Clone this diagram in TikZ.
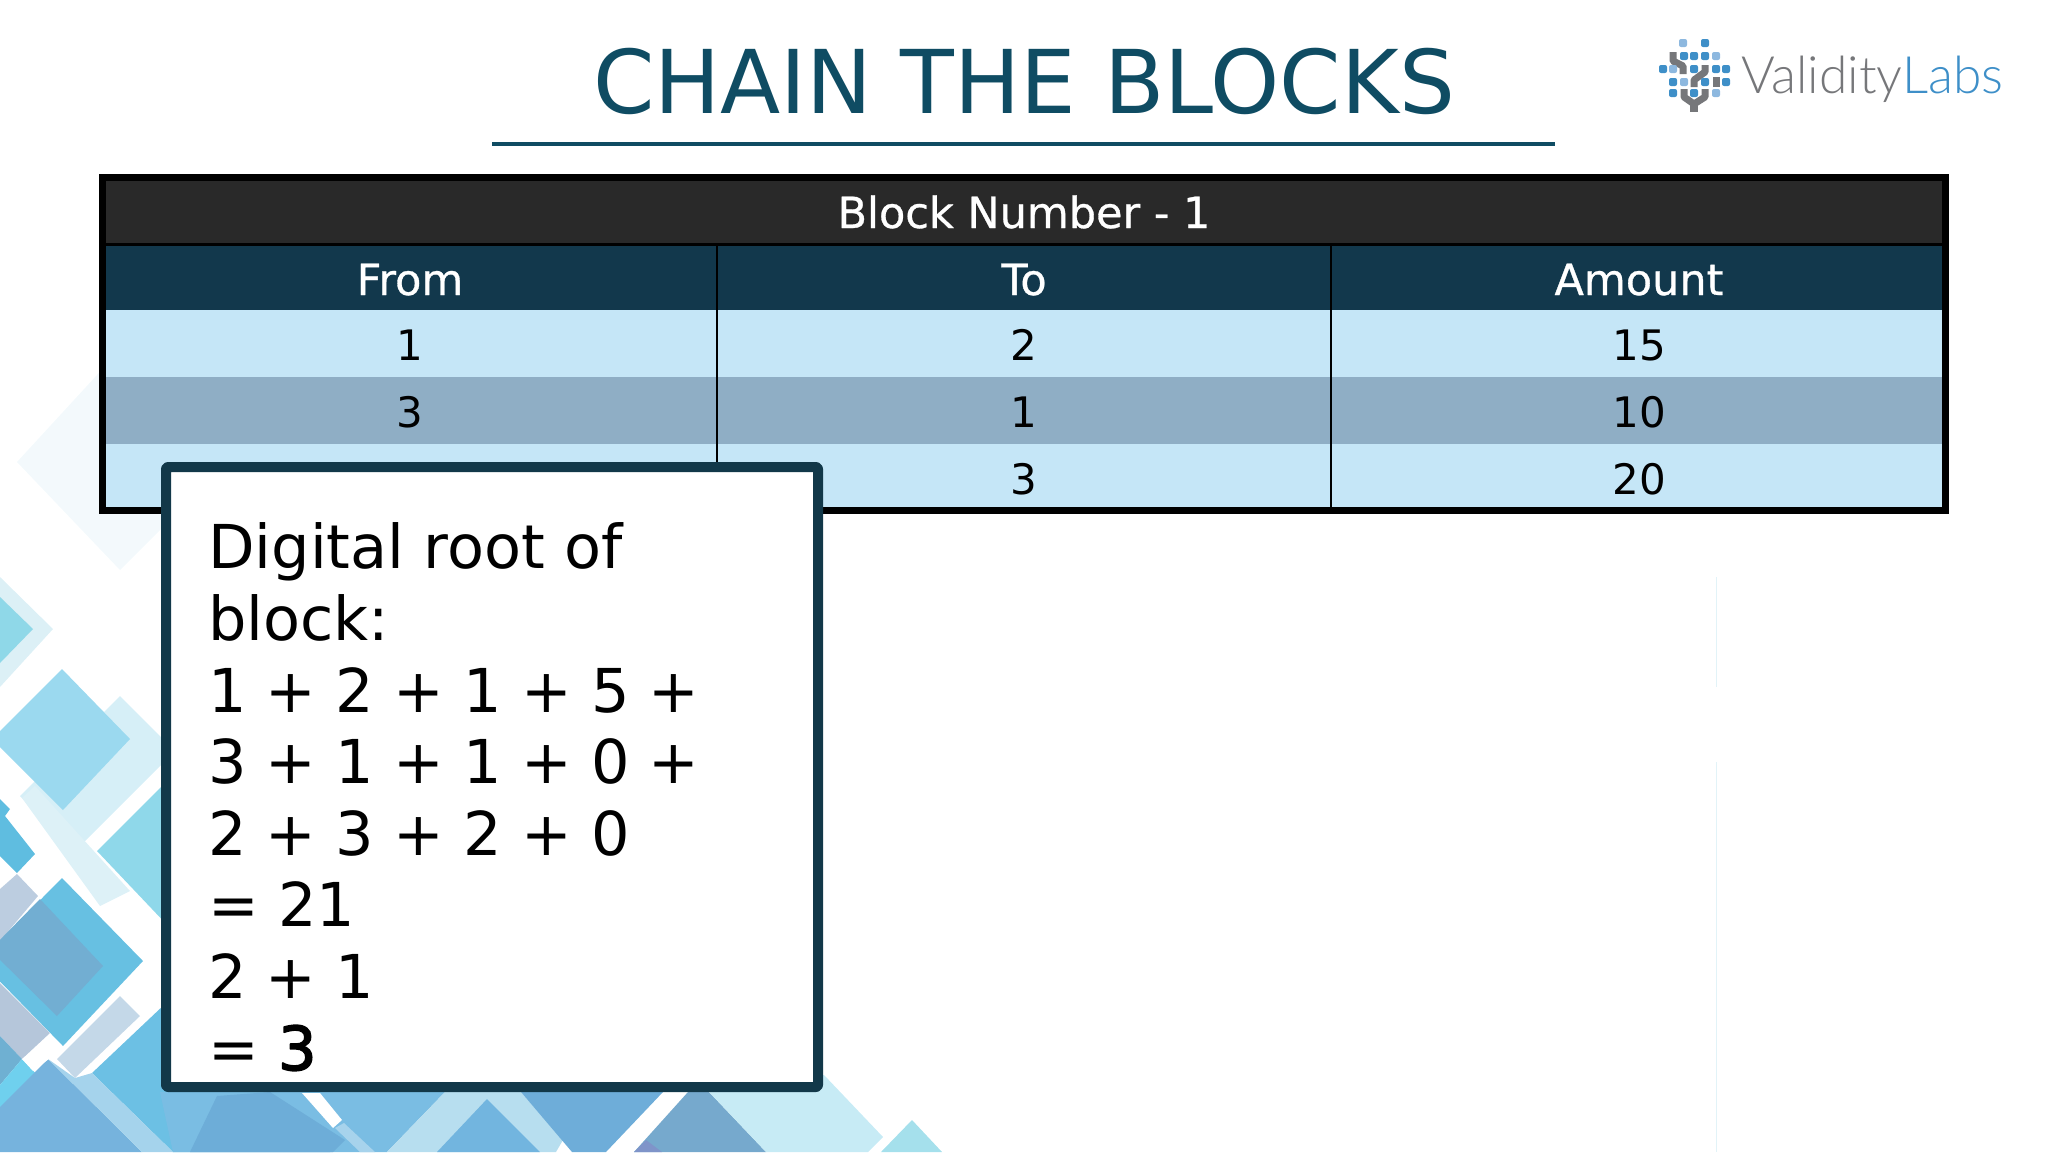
\documentclass[tikz,border=0pt]{standalone}
\usepackage{fontspec}
\setmainfont{DejaVu Sans}
\newfontfamily\thickfont[FakeBold=2.5]{DejaVu Sans}
\newfontfamily\headfont[FakeBold=0.7]{DejaVu Sans}
\newfontfamily\logofont{Lato Light}
\usetikzlibrary{positioning}
\definecolor{titleteal}{HTML}{0F4C63}
\definecolor{boxteal}{HTML}{123849}
\definecolor{blockgray}{HTML}{292929}
\definecolor{headteal}{HTML}{12384C}
\definecolor{rowlight}{HTML}{C5E6F7}
\definecolor{rowdark}{HTML}{8FAEC5}
\definecolor{logogray}{HTML}{76777A}
\definecolor{logoblue}{HTML}{3E8FC8}
\definecolor{logopale}{HTML}{8DB8DF}
\tikzset{
	cell/.style={anchor=base,font=\fontsize{42}{42}\selectfont,inner sep=0pt},
	headcell/.style={cell,text=white,font=\headfont\fontsize{43}{43}\selectfont},
}
\begin{document}
\begin{tikzpicture}[x=1pt,y=-1pt,line join=round]
	\useasboundingbox (0,0) rectangle (2048,1152);
	% tiles behind the slide
	\fill[color={rgb,255:red,243;green,249;blue,252}] (17,462)--(120,350)--(230,460)--(120,570)--cycle;
	\fill[color={rgb,255:red,220;green,240;blue,246}] (0,577)--(53,629)--(0,687)--cycle;
	\fill[color={rgb,255:red,143;green,216;blue,232}] (0,597)--(33,629)--(0,663)--cycle;
	\fill[color={rgb,255:red,214;green,239;blue,247}] (120,696)--(175,751)--(75,851)--(20,796)--cycle;
	\fill[color={rgb,255:red,155;green,217;blue,239}] (62,669)--(130,739)--(63,810)--(-8,739)--cycle;
	\fill[color={rgb,255:red,143;green,216;blue,234}] (97,851)--(170,778)--(250,858)--(170,928)--cycle;
	\fill[color={rgb,255:red,221;green,241;blue,247}] (22,798)--(35,786)--(130,891)--(100,906)--cycle;
	\fill[color={rgb,255:red,95;green,189;blue,224}] (0,799)--(10,809)--(5,816)--(35,854)--(17,873)--(0,856)--cycle;
	\fill[color={rgb,255:red,188;green,205;blue,224}] (0,889)--(17,874)--(38,896)--(0,941)--cycle;
	\fill[color={rgb,255:red,103;green,192;blue,226}] (62,878)--(143,961)--(63,1046)--(-20,961)--cycle;
	\fill[color={rgb,255:red,114;green,174;blue,210}] (40,899)--(103,966)--(57,1016)--(-10,950)--cycle;
	\fill[color={rgb,255:red,181;green,198;blue,218}] (0,983)--(50,1033)--(22,1059)--(0,1036)--cycle;
	\fill[color={rgb,255:red,111;green,176;blue,210}] (0,1036)--(22,1059)--(0,1085)--cycle;
	\fill[color={rgb,255:red,196;green,216;blue,232}] (57,1059)--(120,996)--(140,1016)--(75,1078)--cycle;
	\fill[color={rgb,255:red,108;green,192;blue,228}] (92,1073)--(165,1004)--(330,1152)--(173,1152)--cycle;
	\fill[color={rgb,255:red,111;green,208;blue,238}] (0,1085)--(22,1059)--(40,1078)--(0,1120)--cycle;
	\fill[color={rgb,255:red,118;green,179;blue,221}] (48,1059)--(142,1152)--(-45,1152)--cycle;
	\fill[color={rgb,255:red,165;green,211;blue,236}] (48,1059)--(75,1078)--(92,1073)--(173,1152)--(142,1152)--cycle;
	\fill[white] (22,1059)--(50,1038)--(62,1049)--(33,1071)--cycle;
	\fill[color={rgb,255:red,122;green,189;blue,227}] (160,1092)--(445,1092)--(387,1152)--(173,1152)--cycle;
	\fill[color={rgb,255:red,109;green,173;blue,216}] (217,1096)--(270,1092)--(345,1140)--(333,1152)--(190,1152)--cycle;
	\fill[white] (302,1093)--(320,1093)--(342,1120)--(333,1128)--cycle;
	\fill[color={rgb,255:red,167;green,211;blue,236}] (335,1128)--(344,1123)--(375,1152)--(360,1152)--cycle;
	\fill[color={rgb,255:red,183;green,222;blue,239}] (445,1092)--(521,1092)--(563,1140)--(556,1152)--(387,1152)--cycle;
	\fill[color={rgb,255:red,114;green,181;blue,223}] (487,1099)--(540,1152)--(437,1152)--cycle;
	\fill[color={rgb,255:red,110;green,173;blue,217}] (521,1092)--(663,1092)--(606,1152)--(572,1152)--cycle;
	\fill[color={rgb,255:red,118;green,169;blue,205}] (688,1092)--(709,1092)--(766,1152)--(634,1152)--cycle;
	\fill[color={rgb,255:red,127;green,148;blue,201}] (646,1140)--(662,1152)--(634,1152)--cycle;
	\fill[color={rgb,255:red,199;green,235;blue,245}] (709,1092)--(700,1075)--(824,1075)--(883,1137)--(868,1152)--(766,1152)--cycle;
	\fill[color={rgb,255:red,165;green,224;blue,236}] (912,1120)--(942,1152)--(881,1152)--cycle;
	\draw[color={rgb,255:red,226;green,243;blue,248},line width=1] (1716,577)--(1716,687) (1716,762)--(1716,1152);
	% title
	\node[anchor=base,inner sep=0pt,text=titleteal,font=\fontsize{88}{88}\selectfont] (title) at (1024,113) {CHAIN THE BLOCKS};
	\coordinate (ruleleft) at (492,144);
	\coordinate (ruleright) at (1555,144);
	\draw[titleteal,line width=4.5] (ruleleft)--(ruleright);
	% logo
	\draw[logogray,line width=7] (1673,52)--(1673,61)--(1683,66)--(1683,74);
	\draw[logogray,line width=7] (1705,65)--(1705,72)--(1694,80)--(1694,87);
	\draw[logogray,line width=7] (1716,77)--(1716,87);
	\draw[logogray,line width=7] (1684,89)--(1684,97)--(1694,104)--(1705,97)--(1705,89);
	\draw[logogray,line width=8] (1694,102)--(1694,112);
	\foreach \x/\y/\c in {1683/43/logopale,1705/43/logoblue,1684/56/logoblue,1694/56/logoblue,1705/56/logoblue,1716/56/logopale,1663/69/logoblue,1673/69/logopale,1694/69/logoblue,1716/69/logoblue,1726/69/logoblue,1673/82/logoblue,1684/82/logopale,1705/82/logoblue,1726/82/logoblue,1673/93/logoblue,1694/93/logoblue,1716/93/logopale}
		\fill[\c,rounded corners=2] (\x-4,\y-4) rectangle (\x+4,\y+4);
	\node[anchor=base west,inner sep=0pt,font=\logofont\fontsize{51.5}{51.5}\selectfont] (logotext) at (1741,93) {\textcolor{logogray}{Validity}\textcolor{logoblue}{Labs}};
	% table
	\fill[blockgray] (106,181) rectangle (1942,243);
	\fill[headteal] (106,246) rectangle (1942,310);
	\fill[rowlight] (106,310) rectangle (1942,377);
	\fill[rowdark] (106,377) rectangle (1942,444);
	\fill[rowlight] (106,444) rectangle (1942,507);
	\draw[black,line width=1.5] (717,245)--(717,507) (1331,245)--(1331,507);
	\draw[black,line width=3] (106,244.5)--(1942,244.5);
	\draw[black,line width=7,line join=miter] (102.5,177.5) rectangle (1945.5,510.5);
	\node[headcell] (blocknum) at (1024,228) {Block Number - 1};
	\node[headcell] (hfrom) at (410,295) {From};
	\node[headcell] (hto) at (1024,295) {To};
	\node[headcell] (hamount) at (1639,295) {Amount};
	\node[cell] (ra) at (410,360) {1};
	\node[cell] (rb) at (1024,360) {2};
	\node[cell] (rc) at (1639,360) {15};
	\node[cell] (rd) at (410,427) {3};
	\node[cell] (re) at (1024,427) {1};
	\node[cell] (rf) at (1639,427) {10};
	\node[cell] (rg) at (1024,494) {3};
	\node[cell] (rh) at (1639,494) {20};
	% digital root box
	\node[draw=boxteal,fill=white,line width=10,rounded corners=2,anchor=north west,minimum width=652,minimum height=620,inner sep=0pt,outer sep=0pt] (rootbox) at (166,467) {};
	\node[anchor=base west,inner sep=0pt,align=left,font=\fontsize{60.5}{71.6}\selectfont] (roottext) at (208,1070) {Digital root of\\block:\\1 + 2 + 1 + 5 +\\3 + 1 + 1 + 0 +\\2 + 3 + 2 + 0\\= 21\\2 + 1\\= {\thickfont 3}};
\end{tikzpicture}
\end{document}
